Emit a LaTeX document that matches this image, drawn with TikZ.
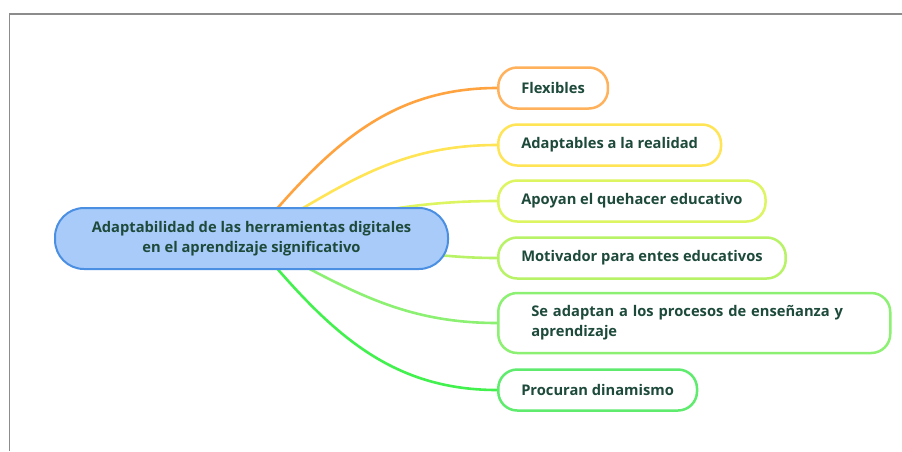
\documentclass[tikz,border=0pt]{standalone}
\usepackage{fontspec}
\setmainfont{Open Sans}
\usetikzlibrary{backgrounds}
\definecolor{txtgreen}{HTML}{1D4A3A}
\definecolor{mainline}{HTML}{4B8FE3}
\definecolor{mainfill}{HTML}{A8CBFA}
\definecolor{flexc}{HTML}{FFB25B}
\definecolor{adaptc}{HTML}{FFE455}
\definecolor{apoyc}{HTML}{DDF560}
\definecolor{motivc}{HTML}{B8F266}
\definecolor{procc}{HTML}{8CF072}
\definecolor{dinac}{HTML}{5EEB6E}
\begin{document}
\begin{tikzpicture}[x=1pt,y=-1pt,
    topic/.style={draw=#1,line width=2.5pt,rounded corners=19pt,fill=white,
      minimum height=41pt,inner xsep=23pt,anchor=west,text=txtgreen,
      font=\bfseries\fontsize{14.7}{20}\selectfont},
    branch/.style={draw=#1,line width=2.6pt,line cap=round}]
    \useasboundingbox (0,0) rectangle (902,451);
    %% frame
    \draw[line width=1.4pt,black!45] (9.5,451) -- (9.5,14) -- (902,14);
    %% central topic
    \node[draw=mainline,fill=mainfill,line width=2pt,rounded corners=29pt,
      minimum width=393pt,minimum height=61pt,align=center,text=txtgreen,
      font=\bfseries\fontsize{14.7}{20}\selectfont] (main) at (251.5,238.5)
      {Adaptabilidad de las herramientas digitales\\en el aprendizaje significativo};
    %% subtopics
    \node[topic=flexc] (flex) at (497,88) {Flexibles};
    \node[topic=adaptc] (adapt) at (497,145) {Adaptables a la realidad};
    \node[topic=apoyc] (apoy) at (497,201) {Apoyan el quehacer educativo};
    \node[topic=motivc] (motiv) at (497,258) {Motivador para entes educativos};
    \node[topic=procc,minimum height=60pt,inner xsep=33pt,text width=326pt,align=left]
      (proc) at (497,323) {Se adaptan a los procesos de enseñanza y\\aprendizaje};
    \node[topic=dinac] (dina) at (497,390) {Procuran dinamismo};
    %% branches
    \begin{scope}[on background layer]
    \draw[branch=flexc!70!orange] (main.center) to[out=50,in=180] (flex.west);
    \draw[branch=adaptc] (main.center) to[out=30,in=180] (adapt.west);
    \draw[branch=apoyc] (main.center) to[out=12,in=180] (apoy.west);
    \draw[branch=motivc] (main.center) to[out=3,in=180] (motiv.west);
    \draw[branch=procc] (main.center) to[out=-27,in=180] (proc.west);
    \draw[branch=dinac!70!green] (main.center) to[out=-50,in=180] (dina.west);
    \end{scope}
\end{tikzpicture}
\end{document}
